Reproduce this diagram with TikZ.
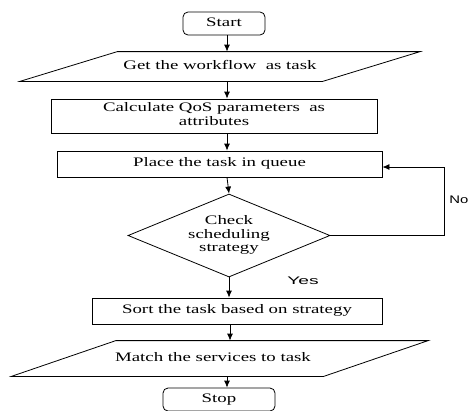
\documentclass[tikz,border=0pt]{standalone}
\usepackage{fontspec}
\setmainfont{Liberation Serif}
\newfontfamily\lblfont{Liberation Sans}
\usepackage{graphicx}
\usetikzlibrary{arrows.meta,shapes.geometric,calc}
\newcommand{\sx}[1]{\scalebox{1.45}[1]{\fontsize{13}{13.5}\selectfont\begin{tabular}{@{}c@{}}#1\end{tabular}}}
\newcommand{\sy}[2][1.75]{\scalebox{#1}[1]{\lblfont\fontsize{11}{12}\selectfont #2}}
\begin{document}
\begin{tikzpicture}[x=1pt,y=-1pt,line width=0.8pt,
  every node/.style={inner sep=0pt},
  procbox/.style={draw,rectangle},
  termbox/.style={draw,rectangle,rounded corners=5pt},
  iobox/.style={rectangle},
  decision/.style={draw,diamond,aspect=2.4},
  arr/.style={-{Latex[length=7pt,width=6pt]}}]
\useasboundingbox (0,0) rectangle (470,410);

\node[termbox,minimum width=82pt,minimum height=23pt] (start) at (224,23.5) {\sx{Start}};

\node[iobox,minimum width=302pt,minimum height=29pt] (p1) at (220,66.5) {\sx{Get the workflow\ \ as task}};
\draw ($(p1.south west)+(-48.75,0)$) -- ($(p1.north west)+(48.75,0)$) -- ($(p1.north east)+(48.75,0)$) -- ($(p1.south east)+(-48.75,0)$) -- cycle;

\node[procbox,minimum width=326pt,minimum height=34pt] (calc) at (214,116) {\sx{Calculate QoS parameters\ \ as\\attributes}};

\node[procbox,minimum width=325pt,minimum height=26pt] (queue) at (219.5,164) {\sx{Place the task in queue}};

\node[decision,minimum width=202pt,minimum height=83pt] (check) at (229,235.5) {\sx{Check\\scheduling\\strategy}};

\node[procbox,minimum width=290pt,minimum height=26pt] (sort) at (237,311) {\sx{Sort the task based on strategy}};

\node[iobox,minimum width=311.5pt,minimum height=35pt] (match) at (213,358.5) {\sx{Match the services to task}};
\draw ($(match.south west)+(-45.5,0)$) -- ($(match.north west)+(59,0)$) -- ($(match.north east)+(59,0)$) -- ($(match.south east)+(-45.5,0)$) -- cycle;

\node[termbox,minimum width=112pt,minimum height=23pt] (stop) at (219,399.5) {\sx{Stop}};

\coordinate (c) at (227,0);
\coordinate (c2) at (230,0);
\coordinate (lp) at (444,236);

\draw[arr] (start.south -| c) -- (p1.north -| c);
\draw[arr] (p1.south -| c) -- (calc.north -| c);
\draw[arr] (calc.south -| c) -- (queue.north -| c);
\draw[arr] (queue.south -| c) -- (check.north);
\draw[arr] (check.south) -- (check.south |- sort.north);
\draw[arr] (sort.south -| c2) -- (match.north -| c2);
\draw[arr] (match.south -| c) -- (stop.north -| c);
\draw[arr] (check.east) -- (check.east -| lp) |- ([yshift=-3pt]queue.east);

\node[anchor=west] (no) at (449,200) {\sy[1.35]{No}};
\node (yes) at (303,281) {\sy{Yes}};
\end{tikzpicture}
\end{document}
